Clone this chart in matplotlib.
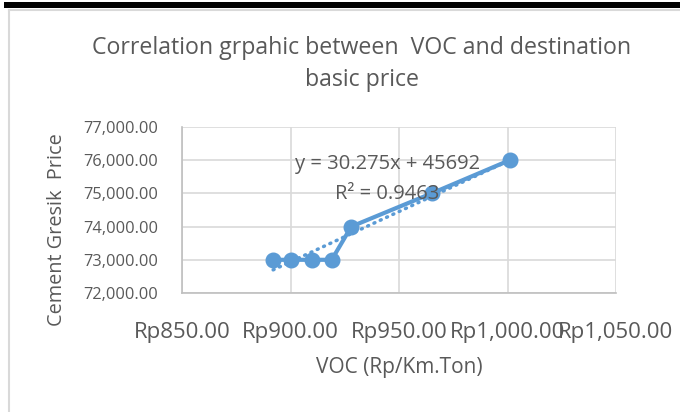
import matplotlib
matplotlib.use("Agg")
import matplotlib.pyplot as plt
import numpy as np
from matplotlib.patches import Rectangle
from matplotlib.lines import Line2D

voc = [892, 900, 910, 919, 928, 965, 1001]
price = [73000, 73000, 73000, 73000, 74000, 75000, 76000]
x_ticks = [850, 900, 950, 1000, 1050]
y_ticks = [72000, 73000, 74000, 75000, 76000, 77000]
slope, intercept = 30.275, 45692
r2 = 0.9463

plt.rcParams['font.family'] = ['Open Sans', 'DejaVu Sans']
blue = '#5B9BD5'
tcol = '#595959'

W, H = 680, 412
fig = plt.figure(figsize=(6.8, 4.12), dpi=100)

# frame decorations
fig.patches.append(Rectangle((4 / W, 1 - 7.7 / H), 1, 6 / H, transform=fig.transFigure,
                             facecolor='black', edgecolor='none', zorder=0))
fig.lines.append(Line2D([9 / W, 9 / W], [0, 1 - 9.5 / H], transform=fig.transFigure,
                        color='#d9d9d9', lw=1.5))
fig.lines.append(Line2D([9 / W, 1], [1 - 9.5 / H, 1 - 9.5 / H], transform=fig.transFigure,
                        color='#d9d9d9', lw=1.5))

ax = fig.add_axes([182 / W, 1 - 293 / H, (616 - 182) / W, (293 - 127) / H])
ax.set_xlim(850, 1050)
ax.set_ylim(72000, 77000)
ax.set_xticks(x_ticks)
ax.set_yticks(y_ticks)
ax.set_xticklabels([f"Rp{v:,.2f}" for v in x_ticks], fontsize=16, color=tcol)
ax.set_yticklabels([f"{v:,.2f}" for v in y_ticks], fontsize=11.8, color=tcol)
ax.tick_params(length=0)
ax.tick_params(axis='x', pad=21)
ax.tick_params(axis='y', pad=17)
ax.grid(True, color='#d9d9d9', lw=1.2)
ax.set_axisbelow(True)
for s in ['top', 'right']:
    ax.spines[s].set_visible(False)
for s in ['left', 'bottom']:
    ax.spines[s].set_color('#bfbfbf')
    ax.spines[s].set_linewidth(1.2)

ax.plot(voc, price, color=blue, lw=3.0, marker='o', ms=10.5, zorder=3)
xs = np.array([min(voc), max(voc)])
ax.plot(xs, slope * xs + intercept, color=blue, lw=2.5, ls=(0, (0.3, 1.7)),
        dash_capstyle='round', zorder=2)

ax.text(944.5, 75900, f"y = {slope}x + {intercept}", ha='center', va='center',
        fontsize=14.5, color=tcol, zorder=4)
ax.text(944.5, 74980, f"R² = {r2}", ha='center', va='center',
        fontsize=14.5, color=tcol, zorder=4)

fig.text(362 / W, 1 - 48 / H, "Correlation grpahic between  VOC and destination",
         ha='center', va='center', fontsize=16.7, color=tcol)
fig.text(362 / W, 1 - 80 / H, "basic price",
         ha='center', va='center', fontsize=16.7, color=tcol)
fig.text(399 / W, 1 - 368 / H, "VOC (Rp/Km.Ton)", ha='center', va='center',
         fontsize=15, color=tcol)
fig.text(57 / W, 1 - 230 / H, "Cement Gresik  Price", ha='center', va='center',
         rotation=90, fontsize=14.3, color=tcol)

fig.savefig("out.png", dpi=100)
